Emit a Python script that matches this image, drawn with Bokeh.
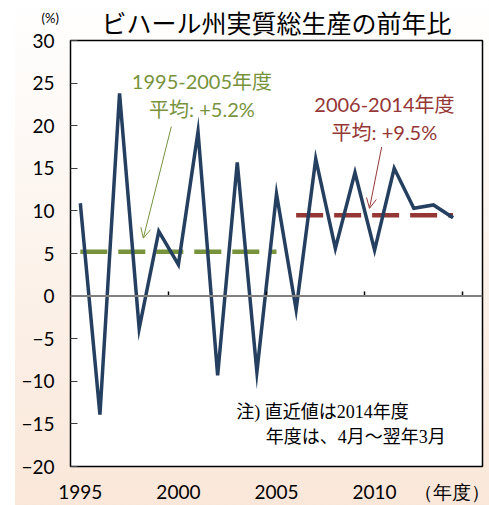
from bokeh.plotting import figure
from bokeh.models import (Range1d, FixedTicker, LinearAxis, Span, Label, Arrow, OpenHead,
                          CustomJSTickFormatter, NumeralTickFormatter)
from bokeh.embed import file_html
from bokeh.resources import INLINE

# ---- data ----
years = list(range(1995, 2015))
growth = [10.9, -13.9, 23.8, -3.8, 7.6, 3.7, 19.3, -9.3, 15.7, -8.9,
          12.0, -1.6, 16.1, 5.6, 14.5, 5.4, 15.0, 10.3, 10.7, 9.2]
period1_years = [1995, 2005]
period1_avg = 5.2
period2_years = [2006, 2014]
period2_avg = 9.5
x_tick_labels = [1995, 2000, 2005, 2010]
x_unit_pos = 2014.1
x_unit_text = "（年度）"
y_ticks = [-20, -15, -10, -5, 0, 5, 10, 15, 20, 25, 30]
group_boundaries = [1999.5, 2004.5, 2009.5, 2014.5]

title_text = "ビハール州実質総生産の前年比"
note_lines = ["注) 直近値は2014年度", "年度は、4月～翌年3月"]
label1 = ["1995-2005年度", "平均: +5.2%"]
label2 = ["2006-2014年度", "平均: +9.5%"]

NAVY = "#243F60"
GREEN = "#77933C"
RED = "#953735"
LATIN = "Lato, 'Noto Sans CJK JP'"
CJK = "'Noto Sans CJK JP'"

p = figure(width=489, height=505,
           x_range=Range1d(1994.5, 2015.5), y_range=Range1d(-20, 30),
           output_backend="svg", toolbar_location=None,
           min_border_left=70, min_border_right=7,
           min_border_top=34, min_border_bottom=38)

p.border_fill_color = None
p.background_fill_color = "white"
p.styles = {"background": "linear-gradient(to right, #ffffff 15px, rgba(255,255,255,0) 15px), "
                          "linear-gradient(to bottom, #ffffff 0%, #fcf3ec 50%, #fae7d9 100%)"}
p.outline_line_color = "black"
p.outline_line_width = 1.5
p.grid.visible = False

# title
p.title.text = title_text
p.title.align = "center"
p.title.text_font = CJK
p.title.text_font_size = "25px"
p.title.text_font_style = "normal"
p.title.text_color = "black"
p.title.standoff = 2

# bottom axis (labels only, plus the unit label at the right end)
xa = p.xaxis[0]
xa.ticker = FixedTicker(ticks=x_tick_labels + [x_unit_pos])
xa.formatter = NumeralTickFormatter(format="0")
xa.major_label_overrides = {x_unit_pos: x_unit_text}
xa.major_tick_in = 0
xa.major_tick_out = 0
xa.minor_tick_line_color = None
xa.axis_line_color = None
xa.major_label_standoff = 13
xa.major_label_text_font = "Lato"
xa.major_label_text_font_size = "19px"
xa.major_label_text_color = "black"

ya = p.yaxis[0]
ya.ticker = FixedTicker(ticks=y_ticks)
ya.major_tick_in = 7
ya.major_tick_out = 0
ya.major_tick_line_color = "#404040"
ya.minor_tick_line_color = None
ya.axis_line_color = None
ya.major_label_standoff = 16
ya.major_label_text_font = "Lato"
ya.major_label_text_font_size = "19px"
ya.major_label_text_color = "black"

# zero line with group tick marks
p.add_layout(Span(location=0, dimension="width", line_color="#808080", line_width=2))
zero_axis = LinearAxis(fixed_location=0, ticker=FixedTicker(ticks=group_boundaries),
                       formatter=CustomJSTickFormatter(code="return ''"),
                       major_tick_in=5, major_tick_out=0, major_tick_line_color="black",
                       major_tick_line_width=1.5,
                       minor_tick_line_color=None, axis_line_color=None,
                       major_label_standoff=0, major_label_text_font_size="1px")
p.add_layout(zero_axis, "below")

# average lines
p.line(period1_years, [period1_avg] * len(period1_years), line_color=GREEN,
       line_width=4.5, line_dash="27 11")
p.line(period2_years, [period2_avg] * len(period2_years), line_color=RED,
       line_width=4.5, line_dash="27 11")

# main series
p.line(years, growth, line_color=NAVY, line_width=3.5, line_join="miter")

# arrows
p.add_layout(Arrow(end=OpenHead(size=10, line_color=GREEN, line_width=1),
                   x_start=1999.64, y_start=19.9, x_end=1998.21, y_end=6.8,
                   line_color=GREEN, line_width=1))
p.add_layout(Arrow(end=OpenHead(size=10, line_color=RED, line_width=1),
                   x_start=2010.36, y_start=17.5, x_end=2009.74, y_end=10.3,
                   line_color=RED, line_width=1))

# annotation texts
for txt, yy in zip(label1, [25.3, 22.0]):
    p.add_layout(Label(x=2001.2, y=yy, text=txt, text_align="center", text_baseline="middle",
                       text_font=LATIN, text_font_size="20px", text_color=GREEN))
for txt, yy in zip(label2, [22.6, 19.3]):
    p.add_layout(Label(x=2010.5, y=yy, text=txt, text_align="center", text_baseline="middle",
                       text_font=LATIN, text_font_size="20px", text_color=RED))

for txt, xx, yy in zip(note_lines, [2002.95, 2004.45], [-13.6, -16.5]):
    p.add_layout(Label(x=xx, y=yy, text=txt, text_align="left", text_baseline="middle",
                       text_font="'Liberation Serif', 'Noto Sans CJK JP'",
                       text_font_size="18px", text_color="black"))

# unit label above the y axis (in the left side panel so it is not clipped)
p.add_layout(Label(x=1994.5, y=30, x_offset=-29, y_offset=23, text="(%)",
                   text_align="left", text_baseline="middle", text_font=LATIN,
                   text_font_size="13px", text_color="black"), "left")

open("out.html", "w").write(file_html(p, INLINE))
